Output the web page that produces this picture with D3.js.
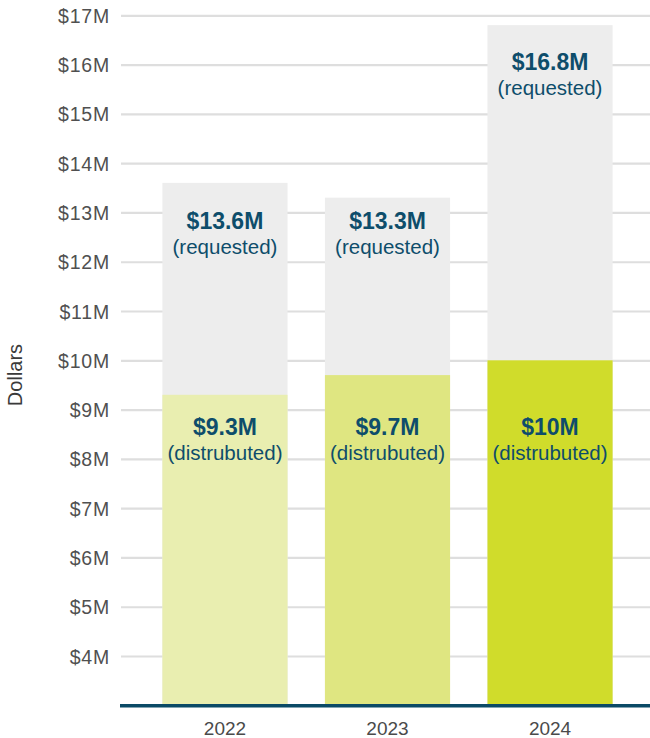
<!DOCTYPE html>
<html>
<head>
<meta charset="utf-8">
<script src="https://cdn.jsdelivr.net/npm/d3@7/dist/d3.min.js"></script>
<style>
  html, body { margin: 0; padding: 0; background: #fff; }
  svg { display: block; }
  text { font-family: "Liberation Sans", Arial, Helvetica, sans-serif; }
</style>
</head>
<body>
<svg id="chart" width="650" height="738"></svg>
<script>
// Funding by year
const years = ["2022", "2023", "2024"];
const requested = [13.6, 13.3, 16.8];
const distributed = [9.3, 9.7, 10];
const requestedText = ["$13.6M", "$13.3M", "$16.8M"];
const distributedText = ["$9.3M", "$9.7M", "$10M"];
const yTicks = [4, 5, 6, 7, 8, 9, 10, 11, 12, 13, 14, 15, 16, 17];
const distributedColors = ["#e9eeb0", "#dfe681", "#d0dc2b"];

// Where the two-line value captions sit, in dollar units (millions)
const requestedCaptionAt = [12.67, 12.67, 15.9];
const distributedCaptionAt = [8.48, 8.48, 8.48];

const svg = d3.select("#chart");
const W = 650;

const y = d3.scaleLinear().domain([3, 17]).range([705.3, 15.3]);
const x = d3.scaleBand().domain(years).range([125, 650]).paddingInner(0.23).paddingOuter(0.23);

// Gridlines + tick labels
const yAxis = d3.axisLeft(y)
  .tickValues(yTicks)
  .tickFormat(d => `$${d}M`)
  .tickSize(-(W - 121))
  .tickPadding(11);

const gy = svg.append("g")
  .attr("transform", "translate(121,0)")
  .call(yAxis);
gy.select(".domain").remove();
gy.selectAll(".tick line").attr("stroke", "#dedede").attr("stroke-width", 2.2);
gy.selectAll(".tick text")
  .attr("fill", "#505050")
  .style("font-size", "19.5px")
  .style("letter-spacing", "0.8px")
  .attr("dy", "0.36em");

// Axis title
svg.append("text")
  .attr("transform", "translate(22,375) rotate(-90)")
  .attr("text-anchor", "middle")
  .attr("fill", "#3a3a3a")
  .style("font-size", "20px")
  .text("Dollars");

// Requested (background) bars
svg.append("g").selectAll("rect")
  .data(years)
  .join("rect")
  .attr("x", d => x(d))
  .attr("width", x.bandwidth())
  .attr("y", (d, i) => y(requested[i]))
  .attr("height", (d, i) => y(3) - y(requested[i]))
  .attr("fill", "#ededed");

// Distributed bars
svg.append("g").selectAll("rect")
  .data(years)
  .join("rect")
  .attr("x", d => x(d))
  .attr("width", x.bandwidth())
  .attr("y", (d, i) => y(distributed[i]))
  .attr("height", (d, i) => y(3) - y(distributed[i]))
  .attr("fill", (d, i) => distributedColors[i]);

// Value captions
const labelColor = "#0e4d6b";
function caption(valueText, subText, at) {
  const g = svg.append("g");
  years.forEach((yr, i) => {
    const cx = x(yr) + x.bandwidth() / 2;
    const by = y(at[i]);
    g.append("text")
      .attr("x", cx).attr("y", by)
      .attr("text-anchor", "middle")
      .attr("fill", labelColor)
      .style("font-size", "23px")
      .style("font-weight", "bold")
      .text(valueText[i]);
    g.append("text")
      .attr("x", cx).attr("y", by + 25)
      .attr("text-anchor", "middle")
      .attr("fill", labelColor)
      .style("font-size", "20.5px")
      .text(subText);
  });
}
caption(requestedText, "(requested)", requestedCaptionAt);
caption(distributedText, "(distrubuted)", distributedCaptionAt);

// Baseline + year labels
const xAxis = d3.axisBottom(x).tickSize(0).tickPadding(16);
const gx = svg.append("g")
  .attr("transform", `translate(0,${y(3)})`)
  .call(xAxis);
gx.select(".domain").remove();
gx.append("line")
  .attr("x1", 120).attr("x2", W)
  .attr("y1", 0.5).attr("y2", 0.5)
  .attr("stroke", "#0b4a66")
  .attr("stroke-width", 3.6);
gx.selectAll(".tick text")
  .attr("fill", "#4a4a4a")
  .style("font-size", "19px");
</script>
</body>
</html>
